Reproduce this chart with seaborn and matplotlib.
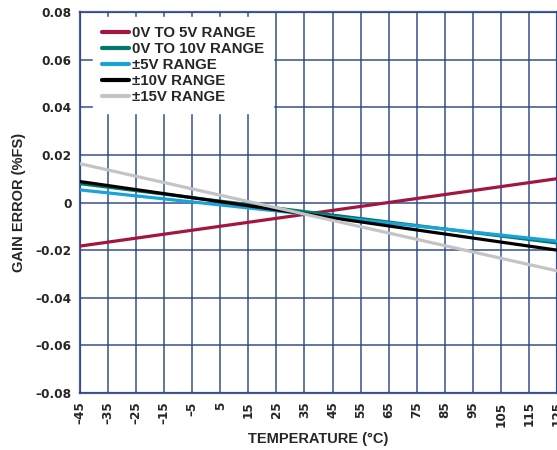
import pandas as pd
import numpy as np
import matplotlib
matplotlib.use('Agg')
import matplotlib.pyplot as plt
import seaborn as sns

sns.set_style('white')
plt.rcParams['font.family'] = ['Liberation Sans', 'DejaVu Sans']
plt.rcParams['font.weight'] = 'bold'

# endpoints of each (linear) gain error curve
temps = [-45, 125]
names = ['0V TO 5V RANGE', '0V TO 10V RANGE', '\u00b15V RANGE', '\u00b110V RANGE', '\u00b115V RANGE']
err_0_5 = [-0.0183, 0.0100]
err_0_10 = [0.0079, -0.0170]
err_pm5 = [0.0053, -0.0162]
err_pm10 = [0.0088, -0.0200]
err_pm15 = [0.0163, -0.0287]
colors = ['#a3173f', '#00786b', '#19a4d8', '#000000', '#c4c4c4']

xticks = list(range(-45, 126, 10))
yticks = [-0.08, -0.06, -0.04, -0.02, 0, 0.02, 0.04, 0.06, 0.08]

df = pd.DataFrame({
    'temp': temps * 5,
    'err': err_0_5 + err_0_10 + err_pm5 + err_pm10 + err_pm15,
    'range': [n for n in names for _ in temps],
})

fig = plt.figure(figsize=(5.57, 4.5), dpi=100)
ax = fig.add_axes([80 / 557, 57 / 450, 477 / 557, 381 / 450])

grid_c = '#2c4685'
sns.lineplot(data=df, x='temp', y='err', hue='range', hue_order=names,
             palette=colors, linewidth=2.3, ax=ax, zorder=3)

tick_font = {'family': 'DejaVu Sans', 'weight': 'bold', 'size': 8.7}
ax.set_xlim(-45, 125)
ax.set_ylim(-0.08, 0.08)
ax.set_xticks(xticks)
ax.set_xticklabels([str(t).replace('-', '\u2013') for t in xticks], rotation=90,
                   fontdict=tick_font)
ax.set_yticks(yticks)
ax.set_yticklabels(['0' if v == 0 else f'{v:.2f}'.replace('-', '\u2013') for v in yticks],
                   fontdict=tick_font)
ax.tick_params(length=0, pad=6)
ax.grid(True, color=grid_c, linewidth=1.3, alpha=0.8)
ax.set_axisbelow(True)
for s in ax.spines.values():
    s.set_color(grid_c)
    s.set_linewidth(1.6)
    s.set_alpha(0.85)

ax.set_xlabel('TEMPERATURE (\u00b0C)', fontsize=10.5, fontweight='bold', labelpad=4)
ax.set_ylabel('GAIN ERROR (%FS)', fontsize=10.5, fontweight='bold', labelpad=7)

leg = ax.legend(loc='upper left', bbox_to_anchor=(0.027, 0.987), borderaxespad=0,
                frameon=True, fancybox=False, facecolor='white', edgecolor='white',
                framealpha=1, handlelength=1.8, handletextpad=0.2, labelspacing=0.14,
                borderpad=0.6, prop={'weight': 'bold', 'size': 10.8})
for h in leg.get_lines():
    h.set_linewidth(3)
leg.set_zorder(5)

fig.savefig('out.png', dpi=100)
